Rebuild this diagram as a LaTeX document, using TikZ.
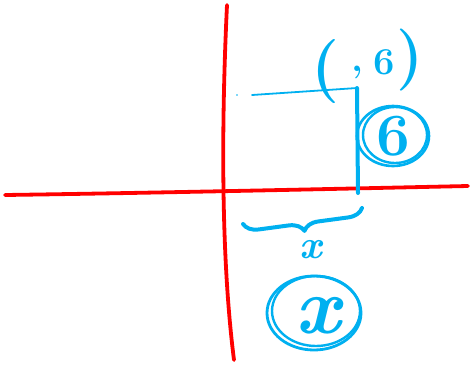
\documentclass[tikz,border=0pt]{standalone}
\usepackage{amsmath}
\usepackage{tikz}
\usetikzlibrary{decorations.pathreplacing}
\definecolor{penblue}{RGB}{0,176,240}
\definecolor{penred}{RGB}{255,0,0}

\begin{document}
\begin{tikzpicture}[x=1pt, y=-1pt, line cap=round, line join=round,
    axis/.style={penred, line width=3.8pt},
    ink/.style={penblue, line width=4pt},
    inktext/.style={penblue, inner sep=0pt}]
  \useasboundingbox (0,0) rectangle (471,367);
  \coordinate (yTop) at (227,5);
  \coordinate (yBot) at (234,360);
  \coordinate (xLeft) at (5,195);
  \coordinate (xRight) at (468,186);
  \draw[axis] (yTop) .. controls (222,110) and (220,250) .. (yBot);
  \draw[axis] (xLeft) .. controls (150,193) and (330,189) .. (xRight);
  \coordinate (P) at (357,88);
  \coordinate (Px) at (358,193);
  \coordinate (hL) at (252,95);
  \draw[ink, line width=1.8pt] (hL) -- (P);
  \fill[penblue] (237,95) circle (0.8);
  \draw[ink] (P) -- (Px);
  \node[inktext, font=\bfseries\fontsize{64}{64}\selectfont] (lpar) at (326,72) {(};
  \node[inktext, font=\bfseries\fontsize{38}{38}\selectfont] (comma) at (357,72) {,};
  \node[inktext, font=\bfseries\fontsize{38}{38}\selectfont] (six) at (384,62) {6};
  \node[inktext, font=\bfseries\fontsize{62}{62}\selectfont] (rpar) at (410,60) {)};
  \node[inktext, font=\bfseries\fontsize{60}{60}\selectfont] (sixc) at (393,136) {6};
  \draw[ink, line width=2.6pt] (sixc) ellipse (36 and 30);
  \draw[ink, line width=2.4pt] ([xshift=2pt,yshift=1pt]sixc.center) ellipse (32 and 28);
  \coordinate (bL) at (243,224);
  \coordinate (bR) at (362,208);
  \draw[ink, decorate, decoration={brace, mirror, amplitude=15pt}] (bL) -- (bR);
  \node[inktext, font=\bfseries\itshape\fontsize{40}{40}\selectfont] (xlab) at (311,250) {x};
  \node[inktext, font=\bfseries\itshape\fontsize{80}{80}\selectfont] (xc) at (318,316) {x};
  \draw[ink, line width=2.8pt] (314,313) ellipse (47 and 37);
  \draw[ink, line width=2.4pt] (316,311) ellipse (44 and 35);
\end{tikzpicture}
\end{document}
